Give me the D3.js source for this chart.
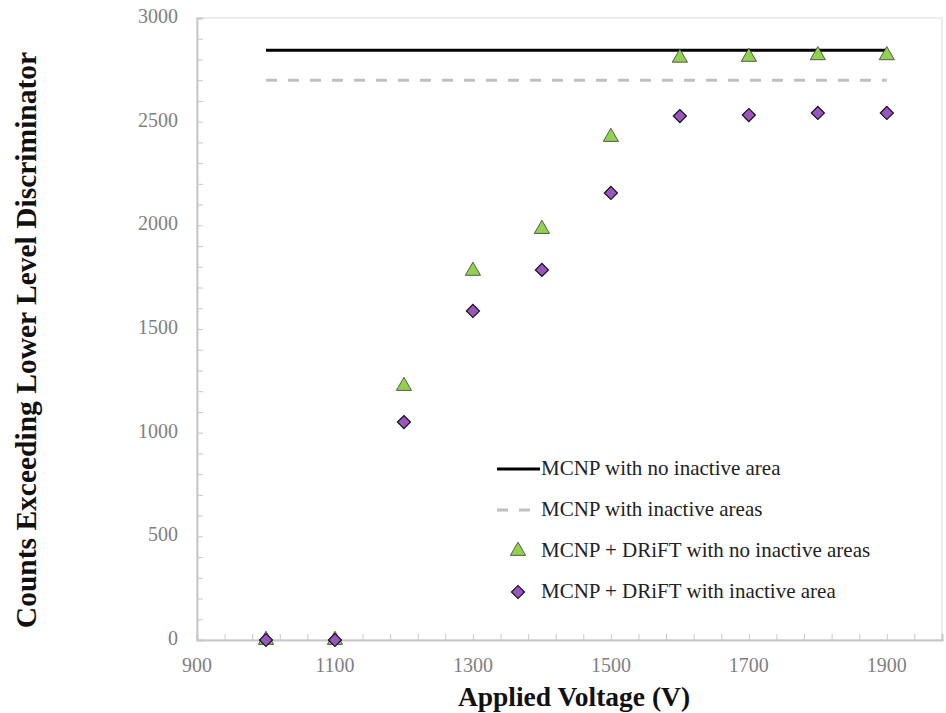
<!DOCTYPE html>
<html><head><meta charset="utf-8">
<script src="https://cdn.jsdelivr.net/npm/d3@7"></script>
<style>body{margin:0;background:#fff}svg{display:block}text{font-family:'Liberation Serif','DejaVu Serif',serif}</style>
</head><body><svg id="c" width="946" height="713"></svg>
<script>
const voltages = [1000,1100,1200,1300,1400,1500,1600,1700,1800,1900];
const driftNoInactive = [0,0,1225,1780,1982,2426,2808,2812,2820,2820];
const driftInactive = [0,0,1051,1587,1785,2156,2527,2532,2542,2542];
const mcnpNoInactive = 2845;
const mcnpInactive = 2700;
const lineRange = [1000,1900];
const xTicks = [900,1100,1300,1500,1700,1900];
const yTicks = [0,500,1000,1500,2000,2500,3000];
const legendLabels = ["MCNP with no inactive area","MCNP with inactive areas","MCNP + DRiFT with no inactive areas","MCNP + DRiFT with inactive area"];

const svg = d3.select("#c");
const x = d3.scaleLinear().domain([900,1980]).range([197,942]);
const y = d3.scaleLinear().domain([0,3000]).range([640,18]);
const axisCol = "#c8c8c8", tickTxt = "#7f7f7f", font = "'Liberation Serif', 'DejaVu Serif', serif";

svg.append("rect").attr("x",x(900)).attr("y",y(3000)).attr("width",x(1980)-x(900)).attr("height",y(0)-y(3000))
  .attr("fill","none").attr("stroke","#d9d9d9").attr("stroke-width",1);

const ya = svg.append("g").attr("transform",`translate(${x(900)},0)`)
  .call(d3.axisLeft(y).tickValues(d3.range(0,3001,100)).tickSize(-6).tickFormat(""));
ya.select(".domain").attr("stroke",axisCol).attr("stroke-width",2);
ya.selectAll(".tick line").attr("stroke",axisCol);
svg.append("g").selectAll("text").data(yTicks).join("text")
  .attr("x",x(900)-19).attr("y",d=>y(d)+5).attr("text-anchor","end")
  .style("font-family",font).attr("font-size",20).attr("fill",tickTxt).text(d=>d);

const xa = svg.append("g").attr("transform",`translate(0,${y(0)})`)
  .call(d3.axisBottom(x).tickValues(d3.range(900,1981,40)).tickSize(-6).tickFormat(""));
xa.select(".domain").attr("stroke",axisCol).attr("stroke-width",2);
xa.selectAll(".tick line").attr("stroke",axisCol);
svg.append("g").selectAll("text").data(xTicks).join("text")
  .attr("x",d=>x(d)).attr("y",y(0)+32).attr("text-anchor","middle")
  .style("font-family",font).attr("font-size",20).attr("fill",tickTxt).text(d=>d);

svg.append("text").attr("x",574).attr("y",706).attr("text-anchor","middle")
  .style("font-family",font).attr("font-weight","bold").attr("font-size",27.5).attr("fill","#111").text("Applied Voltage (V)");
svg.append("text").attr("transform",`translate(36,340) rotate(-90)`).attr("text-anchor","middle")
  .style("font-family",font).attr("font-weight","bold").attr("font-size",29.5).attr("fill","#111").text("Counts Exceeding Lower Level Discriminator");

svg.append("line").attr("x1",x(lineRange[0])).attr("x2",x(lineRange[1])).attr("y1",y(mcnpNoInactive)).attr("y2",y(mcnpNoInactive))
  .attr("stroke","#000").attr("stroke-width",3);
svg.append("line").attr("x1",x(lineRange[0])).attr("x2",x(lineRange[1])).attr("y1",y(mcnpInactive)).attr("y2",y(mcnpInactive))
  .attr("stroke","#c0c0c0").attr("stroke-width",3).attr("stroke-dasharray","11,11");

const tri = d3.symbol().type(d3.symbolTriangle).size(100);
const dia = d3.symbol().type(d3.symbolSquare).size(85);
const green = "#92d050", purple = "#9b55c0";

svg.append("g").selectAll("path").data(voltages).join("path")
  .attr("d",tri).attr("transform",(d,i)=>`translate(${x(d)},${y(driftNoInactive[i])})`)
  .attr("fill",green).attr("stroke","#3a3a3a").attr("stroke-width",0.8);
svg.append("g").selectAll("path").data(voltages).join("path")
  .attr("d",dia).attr("transform",(d,i)=>`translate(${x(d)},${y(driftInactive[i])}) rotate(45)`)
  .attr("fill",purple).attr("stroke","#111").attr("stroke-width",1.2);

const lg = svg.append("g").attr("fill","#222");
const ly = [469,510,551,592];
lg.append("line").attr("x1",497).attr("x2",540).attr("y1",ly[0]).attr("y2",ly[0]).attr("stroke","#000").attr("stroke-width",3);
lg.append("line").attr("x1",497).attr("x2",531).attr("y1",ly[1]).attr("y2",ly[1]).attr("stroke","#c0c0c0").attr("stroke-width",3).attr("stroke-dasharray","11,11");
lg.append("path").attr("d",tri).attr("transform",`translate(518,${ly[2]})`).attr("fill",green).attr("stroke","#3a3a3a").attr("stroke-width",0.8);
lg.append("path").attr("d",dia).attr("transform",`translate(518,${ly[3]}) rotate(45)`).attr("fill",purple).attr("stroke","#111").attr("stroke-width",1.2);
legendLabels.forEach((t,i)=>{
  lg.append("text").attr("x",541).attr("y",ly[i]+6).style("font-family",font).attr("font-size",21).text(t);
});
</script></body></html>
